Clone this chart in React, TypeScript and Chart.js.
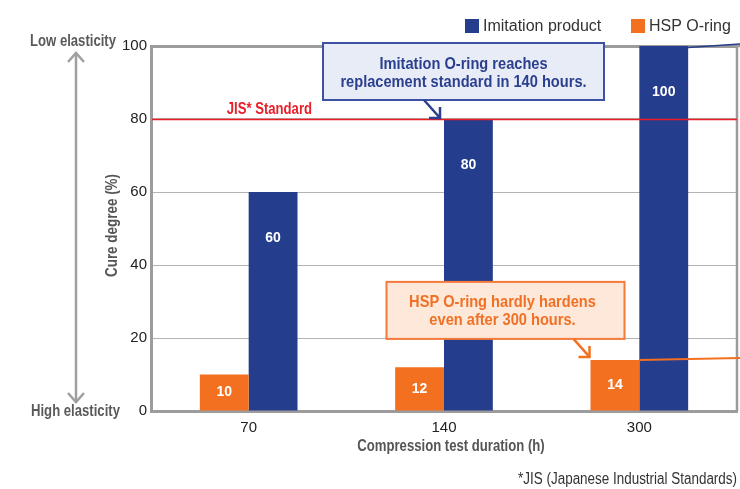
import React, { useEffect, useRef } from "react";
import { Chart, registerables } from "chart.js";

Chart.register(...registerables);

// ---------- data ----------
const categories = ["70", "140", "300"];
const hspValues = [10, 12, 14];
const imitationValues = [60, 80, 100];
const seriesNames = ["HSP O-ring", "Imitation product"];
const seriesColors = ["#f37021", "#243d8c"];
const legendOrder = [1, 0];
const yMin = 0;
const yMax = 100;
const yStep = 20;
const jisStandard = 80;
const jisLabel = "JIS* Standard";
const yTitle = "Cure degree (%)";
const xTitle = "Compression test duration (h)";
const topLabel = "Low elasticity";
const bottomLabel = "High elasticity";
const footnote = "*JIS (Japanese Industrial Standards)";
const calloutBlueText = ["Imitation O-ring reaches", "replacement standard in 140 hours."];
const calloutOrangeText = ["HSP O-ring hardly hardens", "even after 300 hours."];

const SANS = "'Liberation Sans', Arial, Helvetica, sans-serif";
const NARROW = 0.82;

function line(ctx: CanvasRenderingContext2D, x1: number, y1: number, x2: number, y2: number) {
  ctx.beginPath();
  ctx.moveTo(x1, y1);
  ctx.lineTo(x2, y2);
  ctx.stroke();
}

// condensed text: Liberation Sans squeezed horizontally
function condText(
  ctx: CanvasRenderingContext2D,
  text: string,
  x: number,
  y: number,
  align: CanvasTextAlign,
  rot = 0,
  sx = NARROW
) {
  ctx.save();
  ctx.translate(x, y);
  if (rot) ctx.rotate(rot);
  ctx.scale(sx, 1);
  ctx.textAlign = align;
  ctx.fillText(text, 0, 0);
  ctx.restore();
}

function chevronArrow(ctx: CanvasRenderingContext2D, tx: number, ty: number, color: string) {
  ctx.save();
  ctx.strokeStyle = color;
  ctx.lineWidth = 2.5;
  ctx.lineJoin = "miter";
  line(ctx, tx - 16, ty - 18, tx, ty);
  ctx.beginPath();
  ctx.moveTo(tx - 11, ty);
  ctx.lineTo(tx, ty);
  ctx.lineTo(tx, ty - 11);
  ctx.stroke();
  ctx.restore();
}

const overlayPlugin = {
  id: "overlay",
  afterDatasetsDraw(chart: any) {
    const { ctx, chartArea: ca, scales } = chart;
    const y = scales.y;
    ctx.save();

    // right frame border
    ctx.strokeStyle = "#9c9c9c";
    ctx.lineWidth = 2.5;
    line(ctx, ca.right, ca.top - 1, ca.right, ca.bottom);
    line(ctx, ca.right, ca.top, chart.width, ca.top);

    // JIS standard line
    const yj = Math.round(y.getPixelForValue(jisStandard)) + 0.5;
    ctx.strokeStyle = "#ec1c24";
    ctx.lineWidth = 1.3;
    line(ctx, ca.left + 1, yj, ca.right, yj);
    ctx.font = `bold 16px ${SANS}`;
    ctx.fillStyle = "#e8202a";
    ctx.textBaseline = "alphabetic";
    condText(ctx, jisLabel, 312, yj - 6, "right");

    // bar value labels
    ctx.font = `bold 14px ${SANS}`;
    ctx.fillStyle = "#ffffff";
    ctx.textAlign = "center";
    ctx.textBaseline = "middle";
    chart.data.datasets.forEach((ds: any, di: number) => {
      const meta = chart.getDatasetMeta(di);
      meta.data.forEach((el: any, i: number) => {
        const h = el.base - el.y;
        const ly = h < 60 ? (el.y + el.base) / 2 : el.y + 46;
        ctx.fillText(String(ds.data[i]), el.x, ly);
      });
    });

    const hspMeta = chart.getDatasetMeta(0);
    const imiMeta = chart.getDatasetMeta(1);

    // leader lines to the right edge
    const imiLast = imiMeta.data[2];
    ctx.strokeStyle = "#243d8c";
    ctx.lineWidth = 1.5;
    line(ctx, imiLast.x + imiLast.width / 2, imiLast.y + 1.5, chart.width, imiLast.y - 2);
    const hspLast = hspMeta.data[2];
    ctx.strokeStyle = "#f37021";
    ctx.lineWidth = 2;
    line(ctx, hspLast.x + hspLast.width / 2, hspLast.y, chart.width, hspLast.y - 2);

    // callout blue (Imitation @ 140)
    {
      const el = imiMeta.data[1];
      const tx = el.x - el.width / 2 - 4;
      const ty = el.y - 1;
      const bx1 = tx - 117, bx2 = tx + 164, by1 = ty - 75, by2 = ty - 18;
      ctx.fillStyle = "#e8ecf6";
      ctx.fillRect(bx1, by1, bx2 - bx1, by2 - by1);
      ctx.strokeStyle = "#3c51a0";
      ctx.lineWidth = 2;
      ctx.strokeRect(bx1, by1, bx2 - bx1, by2 - by1);
      ctx.font = `bold 17px ${SANS}`;
      ctx.fillStyle = "#2b3f8f";
      ctx.textBaseline = "alphabetic";
      const cx = (bx1 + bx2) / 2;
      condText(ctx, calloutBlueText[0], cx, by1 + 26, "center", 0, 0.86);
      condText(ctx, calloutBlueText[1], cx, by1 + 44, "center", 0, 0.86);
      chevronArrow(ctx, tx, ty, "#2b3f8f");
    }

    // callout orange (HSP @ 300)
    {
      const el = hspMeta.data[2];
      const tx = el.x - el.width / 2 - 1;
      const ty = el.y - 3;
      const bx1 = tx - 203, bx2 = tx + 35, by1 = ty - 75, by2 = ty - 18;
      ctx.fillStyle = "#fde8da";
      ctx.fillRect(bx1, by1, bx2 - bx1, by2 - by1);
      ctx.strokeStyle = "#f4793b";
      ctx.lineWidth = 2;
      ctx.strokeRect(bx1, by1, bx2 - bx1, by2 - by1);
      ctx.font = `bold 17px ${SANS}`;
      ctx.fillStyle = "#f07125";
      ctx.textBaseline = "alphabetic";
      const cx = (bx1 + bx2) / 2 - 3;
      condText(ctx, calloutOrangeText[0], cx, by1 + 25, "center", 0, 0.86);
      condText(ctx, calloutOrangeText[1], cx, by1 + 43, "center", 0, 0.86);
      chevronArrow(ctx, tx, ty, "#f37021");
    }

    // legend
    ctx.font = `16px ${SANS}`;
    ctx.textAlign = "left";
    ctx.textBaseline = "middle";
    const legendX = [465, 631];
    legendOrder.forEach((di, k) => {
      const ds = chart.data.datasets[di];
      ctx.fillStyle = ds.backgroundColor;
      ctx.fillRect(legendX[k], 19, 14, 14);
      ctx.fillStyle = "#333333";
      ctx.fillText(ds.label, legendX[k] + 18, 26.5);
    });

    // left side: elasticity arrow and labels
    ctx.strokeStyle = "#a0a0a0";
    ctx.lineWidth = 2.5;
    const ax = 76;
    const aTop = y.getPixelForValue(yMax) + 7;
    const aBot = y.getPixelForValue(yMin) - 9;
    line(ctx, ax, aTop, ax, aBot);
    ctx.beginPath();
    ctx.moveTo(ax - 8, aTop + 9);
    ctx.lineTo(ax, aTop);
    ctx.lineTo(ax + 8, aTop + 9);
    ctx.stroke();
    ctx.beginPath();
    ctx.moveTo(ax - 8, aBot - 9);
    ctx.lineTo(ax, aBot);
    ctx.lineTo(ax + 8, aBot - 9);
    ctx.stroke();

    ctx.font = `bold 16px ${SANS}`;
    ctx.fillStyle = "#5a5a5a";
    ctx.textBaseline = "alphabetic";
    condText(ctx, topLabel, 30, 46, "left");
    condText(ctx, bottomLabel, 31, 416, "left");

    // y title (rotated)
    ctx.fillStyle = "#555555";
    ctx.textBaseline = "middle";
    condText(ctx, yTitle, 113, (ca.top + ca.bottom) / 2 - 3, "center", -Math.PI / 2, 0.84);

    // x title
    ctx.textBaseline = "alphabetic";
    condText(ctx, xTitle, (ca.left + ca.right) / 2 + 7, 451, "center");

    // footnote
    ctx.font = `16px ${SANS}`;
    ctx.fillStyle = "#333333";
    condText(ctx, footnote, 737, 484, "right", 0, 0.84);

    ctx.restore();
  },
};

export default function App() {
  const ref = useRef<HTMLCanvasElement | null>(null);

  useEffect(() => {
    document.body.style.margin = "0";
    const canvas = ref.current;
    if (!canvas) return;
    const chart = new Chart(canvas, {
      type: "bar",
      data: {
        labels: categories,
        datasets: [
          {
            label: seriesNames[0],
            data: hspValues,
            backgroundColor: seriesColors[0],
            borderWidth: 0,
            categoryPercentage: 0.5,
            barPercentage: 1.0,
          },
          {
            label: seriesNames[1],
            data: imitationValues,
            backgroundColor: seriesColors[1],
            borderWidth: 0,
            categoryPercentage: 0.5,
            barPercentage: 1.0,
          },
        ],
      },
      options: {
        responsive: false,
        animation: false,
        devicePixelRatio: 1,
        layout: { padding: { left: 0, right: 3, top: 46, bottom: 0 } },
        plugins: {
          legend: { display: false },
          title: { display: false },
          tooltip: { enabled: false },
        },
        scales: {
          x: {
            grid: { display: false, drawTicks: false },
            border: { display: true, color: "#9c9c9c", width: 3 },
            ticks: {
              padding: 8,
              color: "#222222",
              font: { family: SANS, size: 15 },
            },
            afterFit: (s: any) => {
              s.height = 78;
            },
          },
          y: {
            min: yMin,
            max: yMax,
            ticks: {
              stepSize: yStep,
              padding: 4,
              color: "#222222",
              font: { family: SANS, size: 15 },
            },
            grid: {
              drawTicks: false,
              color: (c: any) => (c.tick && c.tick.value === yMax ? "#9c9c9c" : "#b3b3b3"),
              lineWidth: (c: any) => (c.tick && c.tick.value === yMax ? 3 : 1),
            },
            border: { display: true, color: "#9c9c9c", width: 3 },
            afterFit: (s: any) => {
              s.width = 151;
            },
          },
        },
      },
      plugins: [overlayPlugin],
    });
    return () => chart.destroy();
  }, []);

  return (
    <div style={{ position: "absolute", left: 0, top: 0, width: 740, height: 489, background: "#ffffff" }}>
      <canvas ref={ref} width={740} height={489} style={{ display: "block" }} />
    </div>
  );
}
